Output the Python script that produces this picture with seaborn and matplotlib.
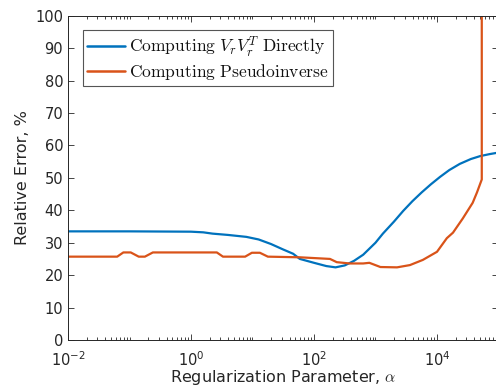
import numpy as np
import pandas as pd
import matplotlib
matplotlib.use("Agg")
import matplotlib.pyplot as plt
import matplotlib.ticker as mticker
import seaborn as sns

# Regularization sweep: log10(alpha) and relative error (%) for each method
log_alpha_direct = [-2.0, -1.0, 0.0, 0.2, 0.35, 0.6, 0.9, 1.1, 1.3, 1.5, 1.66, 1.77,
                    2.0, 2.2, 2.35, 2.5, 2.65, 2.8, 3.0, 3.12, 3.3, 3.45, 3.6, 3.75,
                    3.9, 4.05, 4.2, 4.37, 4.55, 4.7, 4.85, 5.0]
err_direct = [33.5, 33.5, 33.4, 33.2, 32.8, 32.4, 31.8, 31.0, 29.6, 27.9, 26.6, 25.0,
              23.8, 22.8, 22.4, 23.0, 24.4, 26.3, 30.0, 32.8, 36.5, 39.8, 42.8, 45.5,
              48.0, 50.3, 52.4, 54.3, 55.8, 56.7, 57.3, 57.8]

log_alpha_pinv = [-2.0, -1.2, -1.1, -0.98, -0.85, -0.75, -0.62, 0.42, 0.52, 0.88,
                  0.99, 1.12, 1.25, 1.77, 2.26, 2.37, 2.58, 2.8, 2.9, 3.08, 3.35,
                  3.56, 3.77, 4.0, 4.16, 4.26, 4.42, 4.58, 4.65, 4.728, 4.728]
err_pinv = [25.7, 25.7, 27.0, 27.0, 25.7, 25.7, 27.0, 27.0, 25.7, 25.7,
            26.9, 26.9, 25.7, 25.5, 25.0, 24.0, 23.6, 23.6, 23.8, 22.5, 22.4,
            23.1, 24.7, 27.2, 31.4, 33.1, 37.5, 42.3, 45.5, 49.5, 100.0]

labels = [r"$\mathrm{Computing}\ V_rV_r^T\ \mathrm{Directly}$",
          r"$\mathrm{Computing\ Pseudoinverse}$"]
colors = ["#0072BD", "#D95319"]

df = pd.concat([
    pd.DataFrame({"alpha": 10.0 ** np.array(log_alpha_direct), "err": err_direct,
                  "method": labels[0]}),
    pd.DataFrame({"alpha": 10.0 ** np.array(log_alpha_pinv), "err": err_pinv,
                  "method": labels[1]}),
], ignore_index=True)

sns.set_style("ticks")
plt.rcParams["font.family"] = ["DejaVu Sans"]
plt.rcParams["mathtext.fontset"] = "dejavusans"

fig = plt.figure(figsize=(4.96, 3.89), dpi=100)
ax = fig.add_axes([68 / 496, 49 / 389, 430.5 / 496, 324.3 / 389])

sns.lineplot(data=df, x="alpha", y="err", hue="method", palette=colors,
             estimator=None, sort=False, linewidth=1.6, ax=ax, legend=False)

ax.set_xscale("log")
ax.set_xlim(1e-2, 1e5)
ax.set_ylim(0, 100)

ax.xaxis.set_major_locator(mticker.FixedLocator([1e-2, 1e0, 1e2, 1e4]))
ax.xaxis.set_major_formatter(mticker.FixedFormatter(
    [r"$10^{-2}$", r"$10^{0}$", r"$10^{2}$", r"$10^{4}$"]))
ax.xaxis.set_minor_locator(mticker.LogLocator(base=10, subs=np.arange(1, 10), numticks=30))
ax.xaxis.set_minor_formatter(mticker.NullFormatter())
ax.yaxis.set_major_locator(mticker.MultipleLocator(10))

text_gray = "#262626"
ax.tick_params(which="both", direction="in", top=True, right=True,
               colors=text_gray, labelcolor=text_gray, labelsize=10.5, width=0.6)
ax.tick_params(which="major", length=4)
ax.tick_params(which="minor", length=2.2)
ax.tick_params(axis="x", which="major", pad=7.5)
for s in ax.spines.values():
    s.set_color(text_gray)
    s.set_linewidth(0.7)

ax.set_xlabel(r"Regularization Parameter, $\alpha$", fontsize=11.5, color=text_gray,
              math_fontfamily="cm", labelpad=-1)
ax.set_ylabel("Relative Error, %", fontsize=11.5, color=text_gray, labelpad=4)

handles = [plt.Line2D([], [], color=c, linewidth=1.8) for c in colors]
leg = ax.legend(handles, labels, loc="upper left", bbox_to_anchor=(0.035, 0.955),
                borderaxespad=0, fancybox=False, framealpha=1, edgecolor="#555555",
                fontsize=12.6, handlelength=2.15, handletextpad=0.2, borderpad=0.25,
                labelspacing=0.15)
leg.get_frame().set_linewidth(0.8)
for t in leg.get_texts():
    t.set_math_fontfamily("cm")
    t.set_color("#111111")

fig.savefig("out.png", dpi=100)
